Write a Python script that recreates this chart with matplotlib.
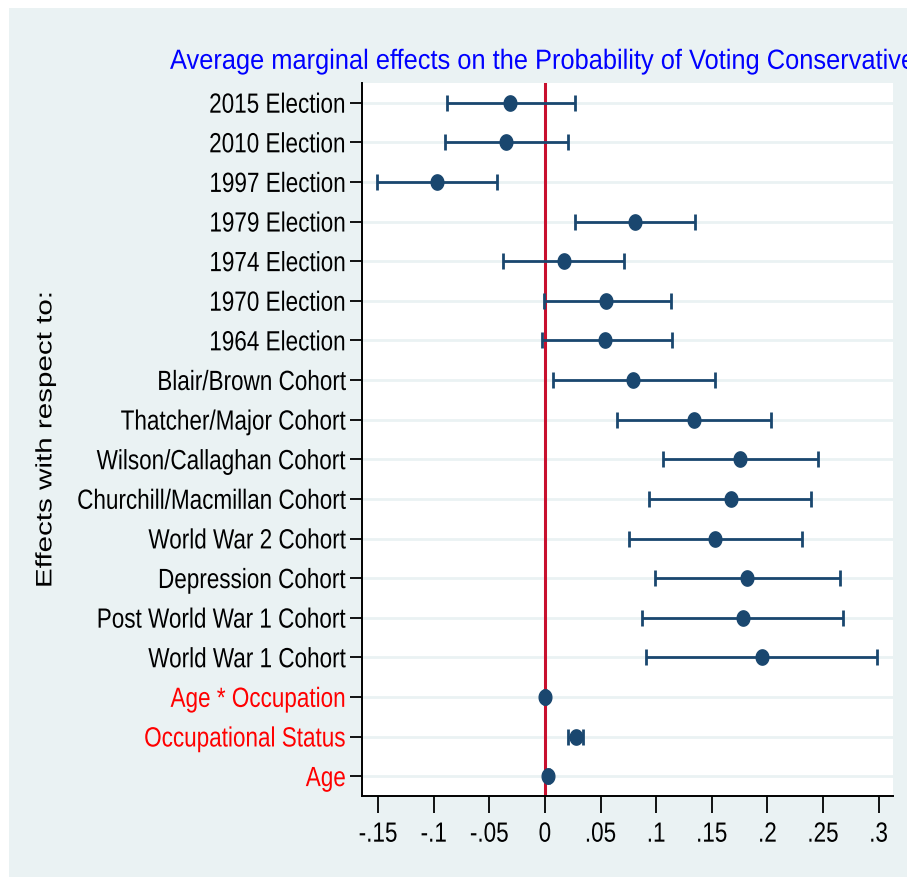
import matplotlib
matplotlib.use("Agg")
import matplotlib.pyplot as plt
from matplotlib.path import Path
from matplotlib.patheffects import AbstractPathEffect
from matplotlib.transforms import Affine2D
from matplotlib.textpath import TextToPath
import matplotlib.patches as mpatches
import numpy as np

# ---------------- data ----------------
labels = ["2015 Election", "2010 Election", "1997 Election", "1979 Election",
          "1974 Election", "1970 Election", "1964 Election",
          "Blair/Brown Cohort", "Thatcher/Major Cohort", "Wilson/Callaghan Cohort",
          "Churchill/Macmillan Cohort", "World War 2 Cohort", "Depression Cohort",
          "Post World War 1 Cohort", "World War 1 Cohort",
          "Age * Occupation", "Occupational Status", "Age"]
estimates = [-0.031, -0.035, -0.097, 0.081, 0.017, 0.055, 0.054, 0.079, 0.134,
             0.175, 0.167, 0.153, 0.182, 0.178, 0.195, 0.0002, 0.028, 0.0024]
ci_low = [-0.088, -0.090, -0.151, 0.027, -0.038, -0.001, -0.003, 0.007, 0.065,
          0.106, 0.094, 0.076, 0.099, 0.087, 0.091, -0.0005, 0.021, 0.0015]
ci_high = [0.027, 0.021, -0.043, 0.135, 0.071, 0.113, 0.114, 0.153, 0.203,
           0.246, 0.239, 0.231, 0.265, 0.268, 0.299, 0.0009, 0.034, 0.0033]
label_colors = ["black"] * 15 + ["red", "red", "red"]
xtick_values = [-0.15, -0.1, -0.05, 0, 0.05, 0.1, 0.15, 0.2, 0.25, 0.3]
xtick_labels = ["-.15", "-.1", "-.05", "0", ".05", ".1", ".15", ".2", ".25", ".3"]
title = "Average marginal effects on the Probability of Voting Conservative"
ylabel = "Effects with respect to:"

FS_UNITS = TextToPath.FONT_SCALE
CAP_MID = 0.358 * FS_UNITS  # middle of capital letters, in glyph units


# Stretch glyphs along the text's own vertical axis (text stays a Text artist,
# and its width/extent is unchanged)
class TallGlyphs(AbstractPathEffect):
    def __init__(self, sy):
        super().__init__()
        self.sy = sy

    def draw_path(self, renderer, gc, tpath, affine, rgbFace=None):
        t = Affine2D().translate(0, -CAP_MID).scale(1, self.sy).translate(0, CAP_MID) + affine
        renderer.draw_path(gc, tpath, t, rgbFace)


FONT = "Liberation Sans"
FS = 16.2          # tick-label font size (width)
SY = 1.235         # glyph height stretch

W, H, DPI = 907, 877, 100
fig = plt.figure(figsize=(W / DPI, H / DPI), dpi=DPI, facecolor="white")

bg = "#EAF2F3"
navy = "#1A476F"
fig.patches.append(mpatches.Rectangle((9 / W, 0), 1 - 9 / W, 1 - 8 / H,
                                      transform=fig.transFigure, facecolor=bg,
                                      edgecolor="none", zorder=-10))

left, right, top, bottom = 362 / W, 893 / W, 1 - 83 / H, 1 - 796 / H
ax = fig.add_axes([left, bottom, right - left, top - bottom])
ax.set_facecolor("white")

n = len(labels)
ypos = np.arange(n)[::-1]
est = np.array(estimates)
lo = np.array(ci_low)
hi = np.array(ci_high)

for y in ypos:
    ax.axhline(y, color=bg, lw=2.0, zorder=0)

ax.axvline(0, color="#C8102E", lw=2.2, zorder=1)

theta = np.linspace(0, 2 * np.pi, 60)
ell = Path(np.column_stack([0.83 * np.cos(theta), np.sin(theta)]), closed=True)

ax.errorbar(est, ypos, xerr=[est - lo, hi - est], fmt="none", ecolor=navy,
            elinewidth=2.0, capsize=5.5, capthick=2.0, zorder=2)
ax.plot(est, ypos, linestyle="none", marker=ell, markersize=11,
        color=navy, markeredgecolor=navy, zorder=3)

ax.set_xlim(-0.1645, 0.313)
ax.set_ylim(-0.5, n - 0.5)

ax.set_yticks(ypos)
ax.set_yticklabels(labels, fontfamily=FONT, fontsize=FS)
for t, c in zip(ax.get_yticklabels(), label_colors):
    t.set_color(c)
    t.set_path_effects([TallGlyphs(SY)])
ax.set_xticks(xtick_values)
ax.set_xticklabels(xtick_labels, fontfamily=FONT, fontsize=FS)
for t in ax.get_xticklabels():
    t.set_path_effects([TallGlyphs(SY)])

ax.tick_params(axis="y", length=9, width=1.3, pad=2.5, color="black")
ax.tick_params(axis="x", length=12, width=1.3, pad=8, color="black")

for s in ["top", "right"]:
    ax.spines[s].set_visible(False)
for s in ["left", "bottom"]:
    ax.spines[s].set_linewidth(1.4)
    ax.spines[s].set_color("black")

tt = fig.text(170 / W, 1 - 61 / H, title, color="#0000FF", fontfamily=FONT,
              fontsize=18.3, ha="left", va="center")
tt.set_path_effects([TallGlyphs(1.095)])

yl = fig.text(46 / W, 1 - 439 / H, ylabel, rotation=90, color="black",
              fontfamily=FONT, fontsize=21.3, ha="center", va="center")
yl.set_path_effects([TallGlyphs(0.755)])

fig.savefig("out.png", dpi=DPI, facecolor="white")
